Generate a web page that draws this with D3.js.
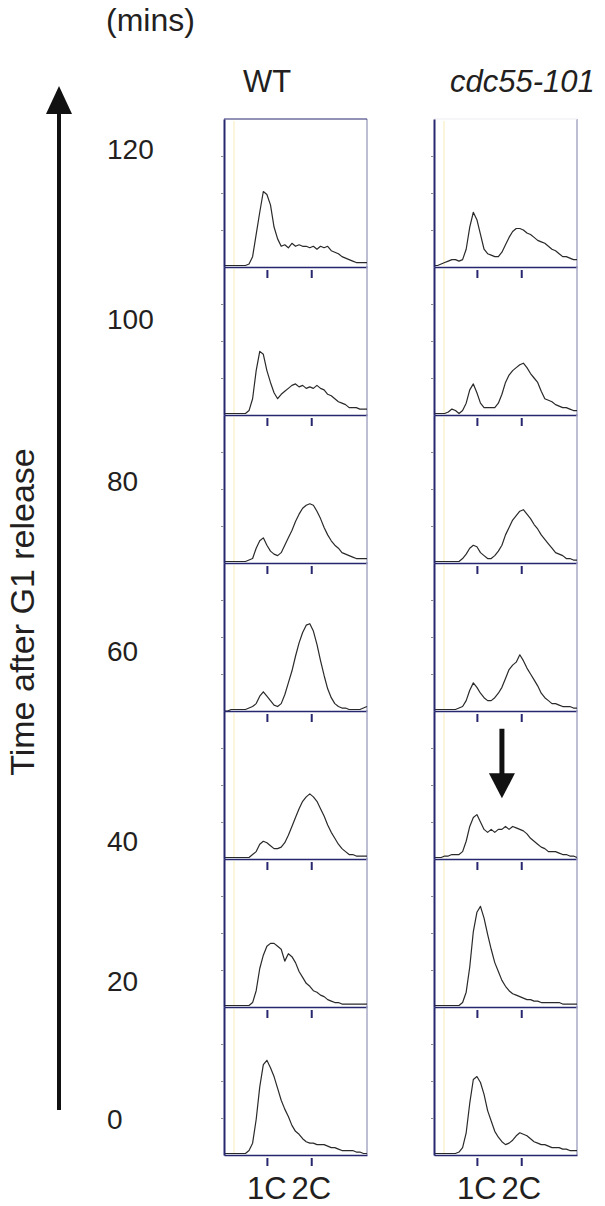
<!DOCTYPE html>
<html>
<head>
<meta charset="utf-8">
<script src="https://cdn.jsdelivr.net/npm/d3@7"></script>
<style>
  body { margin: 0; background: #fff; }
  text { font-family: "Liberation Sans", Arial, sans-serif; fill: #231f20; }
</style>
</head>
<body>
<div id="chart"></div>
<script>
// time points, top row first
const times = ["120", "100", "80", "60", "40", "20", "0"];
const strains = ["WT", "cdc55-101"];
const dnaTicks = [300, 610];
const dnaLabels = ["1C", "2C"];

// DNA content channels of each histogram bin
const channels = [0, 25, 50, 75, 100, 125, 150, 175, 200, 225, 250, 275, 300, 325, 350, 375, 400, 425, 450, 475,
  500, 525, 550, 575, 600, 625, 650, 675, 700, 725, 750, 775, 800, 825, 850, 875, 900, 925, 950, 975, 1000];

// cell counts (% of full scale) per bin
const wt120 = [1,1,1,1,1,1,1,2,7,22,37,51,49,42,27,19,14,15,13,16,14,15,14,14,13,14,12,14,13,14,11,10,9,7,6,5,4,3,3,3,3];
const wt100 = [1,1,1,1,1,1,1,3,11,30,43,41,30,22,15,11,14,16,18,20,21,19,20,18,19,18,20,18,17,14,13,11,9,8,7,5,5,5,4,4,4];
const wt80  = [1,1,1,1,1,1,1,2,3,10,15,17,12,8,6,5,7,12,17,22,28,33,37,39,40,39,35,30,24,19,15,12,10,7,6,5,4,3,3,3,3];
const wt60  = [0,0,1,1,1,1,1,2,3,5,10,13,10,7,4,3,5,11,19,27,37,46,53,58,59,54,45,34,24,15,9,5,3,2,2,1,1,1,1,2,3];
const wt40  = [1,1,1,1,1,1,1,1,3,5,10,12,11,9,7,7,8,11,16,22,28,34,39,42,44,42,39,34,29,23,18,14,10,7,5,3,3,2,2,2,2];
const wt20  = [1,1,1,1,1,1,1,1,3,11,26,35,41,43,43,41,39,31,36,34,30,24,20,16,14,11,10,8,7,5,4,3,3,2,2,2,2,2,2,2,2];
const wt0   = [1,1,1,1,1,1,1,3,8,24,46,61,64,59,53,45,37,31,26,20,16,14,11,9,8,8,7,7,7,6,5,5,4,3,3,3,3,2,2,1,1];

const cdc120 = [1,1,2,3,4,5,5,4,5,12,27,37,32,22,12,9,8,7,7,10,15,20,24,26,26,25,23,22,20,18,17,16,14,12,11,9,7,7,6,5,5];
const cdc100 = [1,1,1,1,2,4,3,1,3,8,17,21,15,8,5,5,5,5,8,14,22,27,30,32,34,35,32,28,25,22,16,11,10,9,7,6,5,5,4,3,3];
const cdc80  = [1,1,1,1,1,1,1,1,3,6,10,12,11,7,5,3,3,5,8,12,19,24,29,32,35,36,33,30,26,23,19,16,13,10,7,6,5,3,3,2,2];
const cdc60  = [1,1,1,1,1,1,1,2,3,7,14,19,16,12,9,7,7,9,12,16,22,28,31,33,38,34,29,25,21,17,12,9,7,5,5,4,3,3,3,2,2];
const cdc40  = [1,1,1,2,2,3,3,3,5,12,22,28,30,25,20,18,20,18,20,20,22,20,22,21,20,19,17,14,12,10,8,7,5,5,5,4,3,3,2,2,1];
const cdc20  = [1,1,1,1,1,1,1,1,3,10,27,51,64,68,60,49,39,30,24,18,14,11,9,8,7,6,5,5,4,4,3,3,3,3,3,3,2,2,2,2,2];
const cdc0   = [1,1,1,1,1,1,1,2,5,15,35,51,53,49,41,30,23,16,12,9,7,8,10,13,15,14,13,11,9,8,7,7,6,5,5,5,4,4,3,3,3];

// arrow drawn in the cdc55-101 40 min panel
const arrowMark = { channel: 475, from: 88, to: 41 };

const width = 605, height = 1206;
const panelW = 143, panelH = 148, top0 = 119;
const colX = [224, 434];
const navy = "#27276f", pale = "#a7a7c6";

const columns = [
  { name: strains[0], data: [wt120, wt100, wt80, wt60, wt40, wt20, wt0] },
  { name: strains[1], data: [cdc120, cdc100, cdc80, cdc60, cdc40, cdc20, cdc0] }
];

const svg = d3.select("#chart")
  .append("svg")
  .attr("width", width)
  .attr("height", height);

const x = d3.scaleLinear().domain([0, 1000]).range([0, panelW]);
const y = d3.scaleLinear().domain([0, 100]).range([panelH, 0]);

const line = d3.line()
  .x((d, i) => x(channels[i]))
  .y(d => y(d));

columns.forEach((col, c) => {
  col.data.forEach((values, r) => {
    const g = svg.append("g")
      .attr("transform", `translate(${colX[c]}, ${top0 + r * panelH})`);

    // faint cream stripe near the left edge
    g.append("line")
      .attr("x1", 10).attr("x2", 10)
      .attr("y1", 2).attr("y2", panelH - 1)
      .attr("stroke", "#fbf5dc")
      .attr("stroke-width", 2);

    // right frame
    g.append("line")
      .attr("x1", panelW).attr("x2", panelW)
      .attr("y1", 0).attr("y2", panelH)
      .attr("stroke", pale)
      .attr("stroke-width", 1.5);

    if (r === 0) {
      g.append("line")
        .attr("x1", 0).attr("x2", panelW)
        .attr("y1", 0).attr("y2", 0)
        .attr("stroke", c === 0 ? navy : "#ededf3")
        .attr("stroke-width", 1);
    }

    g.append("path")
      .datum(values)
      .attr("fill", "none")
      .attr("stroke", "#2a2a2a")
      .attr("stroke-width", 1.2)
      .attr("stroke-linejoin", "round")
      .attr("d", line);

    const yAxis = g.append("g")
      .call(d3.axisLeft(y).tickValues([25, 50, 75]).tickSize(3).tickSizeOuter(0).tickFormat(""));
    yAxis.select(".domain").attr("stroke", navy).attr("stroke-width", 2);
    yAxis.selectAll(".tick line").attr("stroke", "#8a8a9a");

    const xAxis = g.append("g")
      .attr("transform", `translate(0, ${panelH})`)
      .call(d3.axisBottom(x).tickValues(dnaTicks).tickSize(11).tickSizeOuter(0).tickFormat(""));
    xAxis.select(".domain").attr("stroke", navy).attr("stroke-width", 1.5);
    xAxis.selectAll(".tick line").attr("stroke", navy).attr("stroke-width", 2).attr("y1", 3);
  });
});

// 1C / 2C labels under the bottom panels
columns.forEach((col, c) => {
  dnaTicks.forEach((t, k) => {
    svg.append("text")
      .attr("x", colX[c] + x(t))
      .attr("y", top0 + 7 * panelH + 44)
      .attr("text-anchor", "middle")
      .attr("font-size", "31px")
      .text(dnaLabels[k]);
  });
});

// column headers
svg.append("text")
  .attr("x", 267).attr("y", 92)
  .attr("text-anchor", "middle")
  .attr("font-size", "31px")
  .text(strains[0]);

svg.append("text")
  .attr("x", 450).attr("y", 92)
  .attr("font-size", "31px")
  .attr("font-style", "italic")
  .text(strains[1]);

svg.append("text")
  .attr("x", 106).attr("y", 31)
  .attr("font-size", "32px")
  .text("(mins)");

// time labels
const labelY = [159, 329, 491, 661, 851, 991, 1129];
times.forEach((t, i) => {
  svg.append("text")
    .attr("x", 107).attr("y", labelY[i])
    .attr("font-size", "28px")
    .text(t);
});

// long time arrow
svg.append("line")
  .attr("x1", 59).attr("x2", 59)
  .attr("y1", 1110).attr("y2", 108)
  .attr("stroke", "#111")
  .attr("stroke-width", 4);
svg.append("path")
  .attr("d", "M59,86 L46,114 L72,114 Z")
  .attr("fill", "#111");

svg.append("text")
  .attr("transform", "translate(34, 612) rotate(-90)")
  .attr("text-anchor", "middle")
  .attr("font-size", "34px")
  .text("Time after G1 release");

// arrow marking the 40 min cdc55-101 profile
const ag = svg.append("g")
  .attr("transform", `translate(${colX[1]}, ${top0 + 4 * panelH})`);
const ax = x(arrowMark.channel);
ag.append("line")
  .attr("x1", ax).attr("x2", ax)
  .attr("y1", y(arrowMark.from)).attr("y2", y(arrowMark.to) - 20)
  .attr("stroke", "#111")
  .attr("stroke-width", 5);
ag.append("path")
  .attr("d", `M${ax - 13},${y(arrowMark.to) - 25} L${ax + 13},${y(arrowMark.to) - 25} L${ax},${y(arrowMark.to)} Z`)
  .attr("fill", "#111");
</script>
</body>
</html>
